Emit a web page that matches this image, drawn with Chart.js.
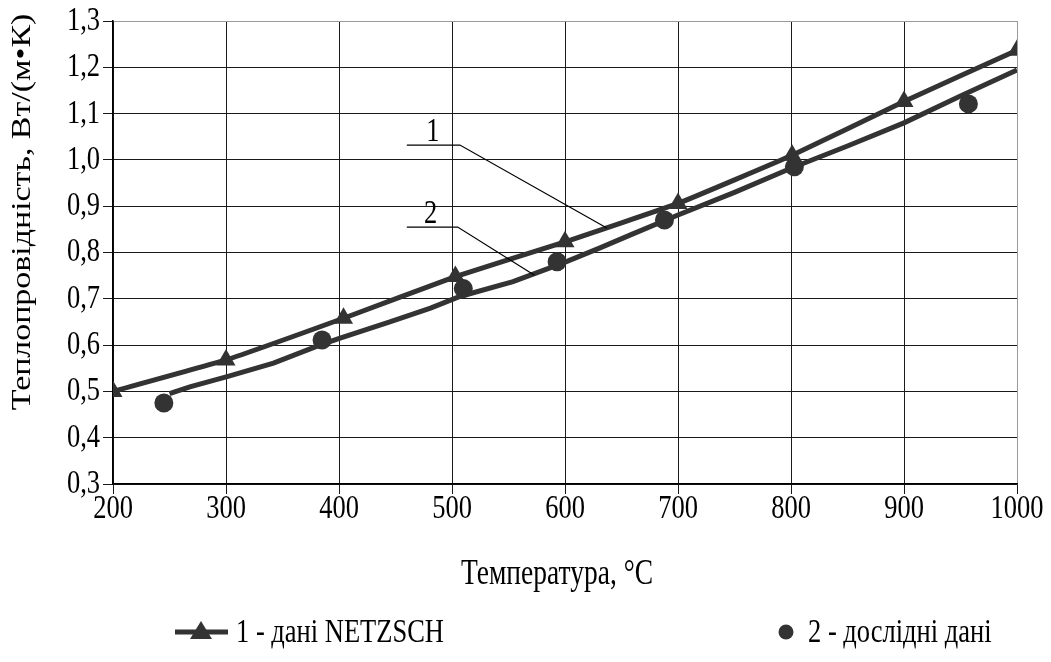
<!DOCTYPE html>
<html lang="uk">
<head>
<meta charset="utf-8">
<title>Теплопровідність</title>
<script src="https://cdn.jsdelivr.net/npm/chart.js@4/dist/chart.umd.min.js"></script>
<style>
    html, body { margin: 0; padding: 0; background: #fff; }
    .chart-box { width: 1051px; height: 662px; position: relative; }
</style>
</head>
<body>
<div class="chart-box"><canvas id="conductivityChart"></canvas></div>
<script>
// NETZSCH reference data (triangles)
const tempNetzsch = [200, 300, 404, 503, 600, 700, 801, 900, 1000];
const kNetzsch = [0.500, 0.568, 0.658, 0.748, 0.823, 0.906, 1.010, 1.126, 1.237];

// measured points (circles)
const tempMeasured = [245, 385, 510, 593, 688, 803, 957];
const kMeasured = [0.475, 0.611, 0.722, 0.780, 0.870, 0.985, 1.121];

// hand-drawn trend through the measured points
const tempTrend = [250, 268, 301, 342, 383, 401, 445, 481, 507, 554, 598, 631, 658, 700, 750, 800, 850, 900, 950, 1000];
const kTrend = [0.495, 0.510, 0.532, 0.561, 0.600, 0.615, 0.650, 0.680, 0.705, 0.737, 0.777, 0.810, 0.838, 0.881, 0.930, 0.982, 1.030, 1.080, 1.138, 1.194];

// axis ticks
const xTicks = [200, 300, 400, 500, 600, 700, 800, 900, 1000];
const yTicks = [0.3, 0.4, 0.5, 0.6, 0.7, 0.8, 0.9, 1.0, 1.1, 1.2, 1.3];
const xTickLabels = xTicks.map(v => String(v));
const yTickLabels = yTicks.map(v => v.toFixed(1).replace('.', ','));

const xTitle = 'Температура, °C';
const yTitle = 'Теплопровідність, Вт/(м•К)';

// curve numbers with leader lines (data units)
const curveLabels = [
    { text: '1', x: 483, y: 1.060, path: [[460, 1.032], [507, 1.032], [637, 0.853]] },
    { text: '2', x: 481, y: 0.882, path: [[460, 0.855], [505, 0.855], [573, 0.751]] }
];

const legendItems = ['1 - дані NETZSCH', '2 - дослідні дані'];

const ink = '#333333';
const serif = "'Liberation Serif', 'Times New Roman', serif";
const fontSize = 26.5;
const stretch = 1.28; // glyphs are taller than normal Times proportions

const toPoints = (xs, ys) => xs.map((x, i) => ({ x: x, y: ys[i] }));

// text with tall, narrow glyphs; rotate = true draws it bottom-to-top
function drawText(ctx, text, x, y, align, rotate, size) {
    ctx.save();
    ctx.translate(x, y);
    if (rotate) {
        ctx.rotate(-Math.PI / 2);
        ctx.scale(stretch, 1);
    } else {
        ctx.scale(1, stretch);
    }
    ctx.font = (size || fontSize) + 'px ' + serif;
    ctx.fillStyle = '#000';
    ctx.textAlign = align;
    ctx.textBaseline = 'middle';
    ctx.fillText(text, 0, 0);
    ctx.restore();
}

// tick labels, axis titles, leader lines, curve numbers and the legend
const textPlugin = {
    id: 'chartText',
    afterDatasetsDraw(chart) {
        const { ctx, scales: { x, y } } = chart;
        ctx.save();
        ctx.strokeStyle = '#000';
        ctx.lineWidth = 1.2;
        curveLabels.forEach(lbl => {
            ctx.beginPath();
            lbl.path.forEach((p, i) => {
                const px = x.getPixelForValue(p[0]);
                const py = y.getPixelForValue(p[1]);
                if (i === 0) ctx.moveTo(px, py); else ctx.lineTo(px, py);
            });
            ctx.stroke();
            drawText(ctx, lbl.text, x.getPixelForValue(lbl.x), y.getPixelForValue(lbl.y), 'center', false);
        });
        ctx.restore();
    },
    afterDraw(chart) {
        const { ctx, chartArea, scales: { x, y } } = chart;

        xTicks.forEach((v, i) => drawText(ctx, xTickLabels[i], x.getPixelForValue(v), chartArea.bottom + 25, 'center', false));
        yTicks.forEach((v, i) => drawText(ctx, yTickLabels[i], chartArea.left - 13, y.getPixelForValue(v), 'right', false));

        drawText(ctx, xTitle, 557, 575, 'center', false, 27.5);
        drawText(ctx, yTitle, 23, 212, 'center', true);

        const ly = 632;
        ctx.save();
        ctx.fillStyle = ink;
        ctx.strokeStyle = ink;

        // item 1: line with triangle
        ctx.lineWidth = 5;
        ctx.beginPath();
        ctx.moveTo(175, ly);
        ctx.lineTo(228, ly);
        ctx.stroke();
        ctx.beginPath();
        ctx.moveTo(201, ly - 11);
        ctx.lineTo(212, ly + 7);
        ctx.lineTo(190, ly + 7);
        ctx.closePath();
        ctx.fill();

        // item 2: circle only
        ctx.beginPath();
        ctx.arc(786, ly, 7.5, 0, Math.PI * 2);
        ctx.fill();
        ctx.restore();

        drawText(ctx, legendItems[0], 236, ly + 1, 'left', false);
        drawText(ctx, legendItems[1], 808, ly + 1, 'left', false);
    }
};

// last grid line on each axis (top / right frame) is lighter
const gridColor = (ctx, count) => (ctx.index === count - 1) ? '#9a9a9a' : '#1a1a1a';

new Chart(document.getElementById('conductivityChart'), {
    type: 'line',
    data: {
        datasets: [
            {
                label: legendItems[0],
                data: toPoints(tempNetzsch, kNetzsch),
                borderColor: ink,
                backgroundColor: ink,
                borderWidth: 5,
                pointStyle: 'triangle',
                pointRadius: 11,
                pointBorderWidth: 0,
                tension: 0.1,
                fill: false
            },
            {
                label: 'trend',
                data: toPoints(tempTrend, kTrend),
                borderColor: ink,
                borderWidth: 5,
                pointRadius: 0,
                tension: 0,
                fill: false
            },
            {
                label: legendItems[1],
                data: toPoints(tempMeasured, kMeasured),
                showLine: false,
                backgroundColor: ink,
                borderColor: ink,
                pointStyle: 'circle',
                pointRadius: 9.5,
                pointBorderWidth: 0
            }
        ]
    },
    options: {
        responsive: true,
        maintainAspectRatio: false,
        animation: false,
        layout: { padding: { left: 0, top: 21, right: 34, bottom: 60 } },
        plugins: {
            legend: { display: false },
            tooltip: { enabled: false }
        },
        scales: {
            x: {
                type: 'linear',
                min: 200,
                max: 1000,
                afterFit: scale => { scale.height = 118; },
                afterBuildTicks: scale => { scale.ticks = xTicks.map(v => ({ value: v })); },
                ticks: { display: false },
                grid: {
                    color: ctx => gridColor(ctx, xTicks.length),
                    lineWidth: 1,
                    tickLength: 10,
                    tickColor: '#1a1a1a'
                },
                border: { color: '#000', width: 1.5 }
            },
            y: {
                type: 'linear',
                min: 0.3,
                max: 1.3,
                afterFit: scale => { scale.width = 113; },
                afterBuildTicks: scale => { scale.ticks = yTicks.map(v => ({ value: v })); },
                ticks: { display: false },
                grid: {
                    color: ctx => gridColor(ctx, yTicks.length),
                    lineWidth: 1,
                    tickLength: 10,
                    tickColor: '#1a1a1a'
                },
                border: { color: '#000', width: 1.5 }
            }
        }
    },
    plugins: [textPlugin]
});
</script>
</body>
</html>
